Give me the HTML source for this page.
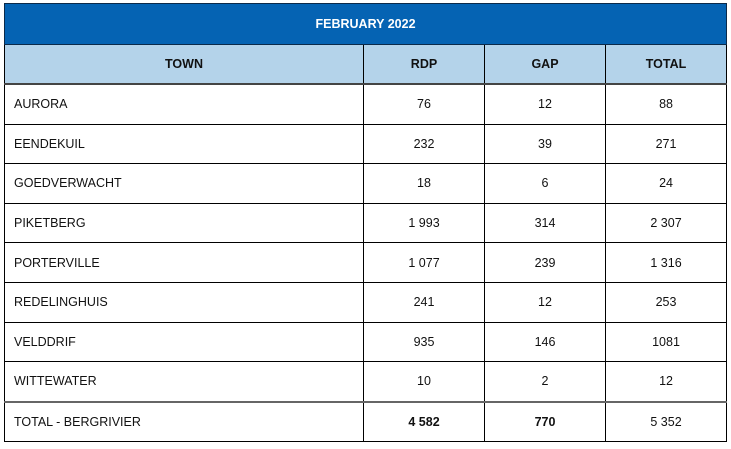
<!DOCTYPE html>
<html><head><meta charset="utf-8"><style>
body{margin:0;width:731px;height:449px;background:#fff;font-family:"Liberation Sans",sans-serif;}
table{position:absolute;left:4px;top:3px;width:722px;border-collapse:collapse;table-layout:fixed;}
td,th{border:1px solid #000;font-size:12.5px;color:#111;height:38.6px;padding:0;text-align:center;}
th{font-weight:bold;}
.title th{background:#0563b3;color:#fff;height:40px;border-color:#0b2a4a;}
.hdr th{background:#b4d3ea;border-bottom:2px solid #444;height:38px;}
td.t{text-align:left;padding-left:9px;}
tr.tot td{border-top:2px solid #666;}
</style></head><body>
<table>
<colgroup><col style="width:359px"><col style="width:121px"><col style="width:121px"><col style="width:121px"></colgroup>
<tr class="title"><th colspan="4">FEBRUARY 2022</th></tr>
<tr class="hdr"><th>TOWN</th><th>RDP</th><th>GAP</th><th>TOTAL</th></tr>
<tr><td class="t">AURORA</td><td>76</td><td>12</td><td>88</td></tr>
<tr><td class="t">EENDEKUIL</td><td>232</td><td>39</td><td>271</td></tr>
<tr><td class="t">GOEDVERWACHT</td><td>18</td><td>6</td><td>24</td></tr>
<tr><td class="t">PIKETBERG</td><td>1 993</td><td>314</td><td>2 307</td></tr>
<tr><td class="t">PORTERVILLE</td><td>1 077</td><td>239</td><td>1 316</td></tr>
<tr><td class="t">REDELINGHUIS</td><td>241</td><td>12</td><td>253</td></tr>
<tr><td class="t">VELDDRIF</td><td>935</td><td>146</td><td>1081</td></tr>
<tr><td class="t">WITTEWATER</td><td>10</td><td>2</td><td>12</td></tr>
<tr class="tot"><td class="t">TOTAL - BERGRIVIER</td><td><b>4 582</b></td><td><b>770</b></td><td>5 352</td></tr>
</table>
</body></html>
